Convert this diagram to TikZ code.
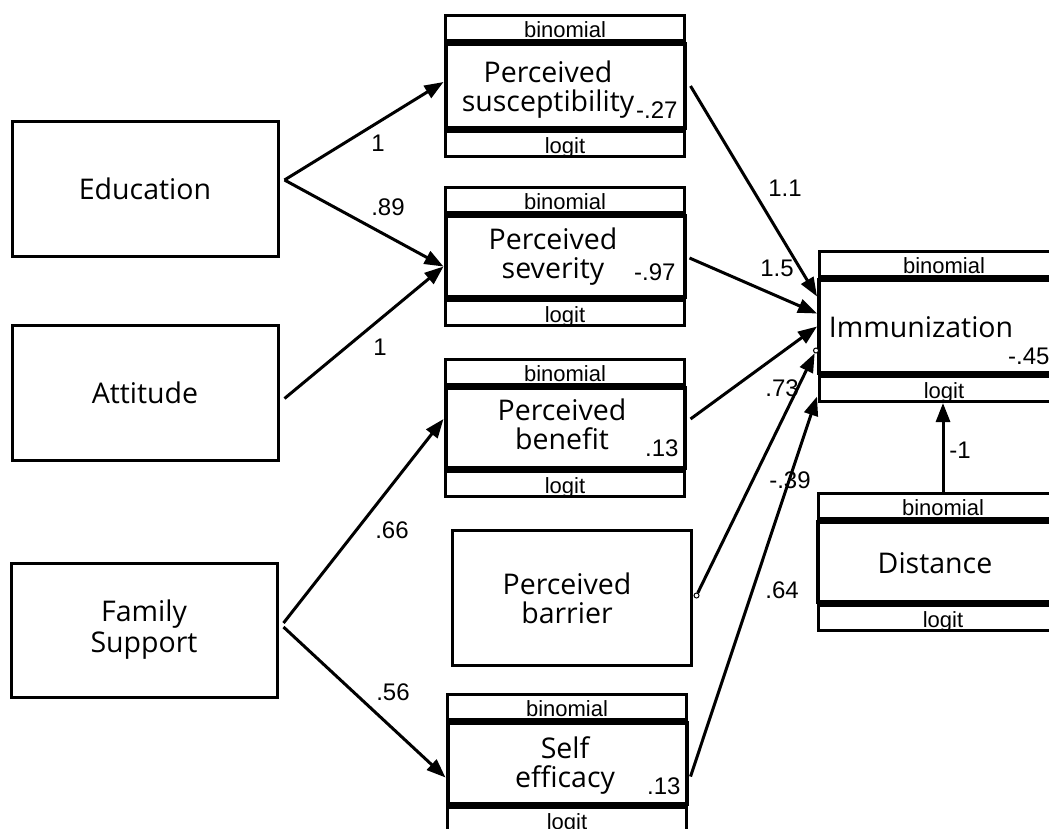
\documentclass[tikz,border=0pt]{standalone}
\usepackage{fontspec}
\setmainfont{Liberation Sans}
\newfontfamily\boxfont{Open Sans}
\usetikzlibrary{arrows.meta,positioning}

\begin{document}
\begin{tikzpicture}[x=1pt,y=-1pt,
	obs/.style={ draw, line width=3pt, inner sep=0pt, minimum width=266pt, minimum height=135pt, font=\boxfont\fontsize{28.5}{31}\selectfont, align=center },
	core/.style={ draw, line width=4pt, inner sep=0pt, minimum width=239pt },
	band/.style={ draw, line width=3pt, inner sep=0pt, minimum width=239pt, minimum height=25pt, text height=21pt, text depth=2pt, font=\fontsize{22}{24}\selectfont },
	title/.style={ font=\boxfont\fontsize{28.5}{29}\selectfont, align=center, inner sep=0pt },
	coef/.style={ font=\fontsize{24}{26}\selectfont, inner sep=0pt },
	effect/.style={ line width=3pt, -{Triangle[length=19pt,width=14pt]} },
	handle/.style={ circle, draw, line width=1pt, fill=white, inner sep=0pt, minimum size=5pt }
]
\clip (0,0) rectangle (1049,828);

% exogenous variables
\node at (145,189) (edu) [obs] {Education};
\node at (145,392.5) (att) [obs] {Attitude};
\node at (144,630) (fam) [obs,minimum height=134pt] {Family\\Support};

% perceived susceptibility
\node at (565,86) (susc) [core,minimum height=84pt] {};
\node [band,above=0pt of susc] (susc-t) {binomial};
\node [band,below=0pt of susc] (susc-b) {logit};
\node at (548,90) (susc-txt) [title] {Perceived\\susceptibility};
\node at (636,110) (susc-e) [coef,anchor=west] {-.27};

% perceived severity
\node at (565,256.5) (sev) [core,minimum height=81pt] {};
\node [band,above=0pt of sev] (sev-t) {binomial};
\node [band,below=0pt of sev] (sev-b) {logit};
\node at (553,257) (sev-txt) [title] {Perceived\\severity};
\node at (634,272) (sev-e) [coef,anchor=west] {-.97};

% perceived benefit
\node at (565,428) (ben) [core,minimum height=80pt] {};
\node [band,above=0pt of ben] (ben-t) {binomial};
\node [band,below=0pt of ben] (ben-b) {logit};
\node at (562,424) (ben-txt) [title] {Perceived\\benefit};
\node at (645,448) (ben-e) [coef,anchor=west] {.13};

% perceived barrier
\node at (571.5,597.5) (bar) [obs,minimum width=239pt] {};
\node at (567,598) (bar-txt) [title] {Perceived\\barrier};

% self efficacy
\node at (567,763.5) (self) [core,minimum height=81pt] {};
\node [band,above=0pt of self] (self-t) {binomial};
\node [band,below=0pt of self] (self-b) {logit};
\node at (565,766) (self-txt) [title] {Self\\efficacy};
\node at (647,786) (self-e) [coef,anchor=west] {.13};

% immunization
\node at (944,326.5) (imm) [core,minimum width=250pt,minimum height=93pt] {};
\node [band,minimum width=250pt,above=0pt of imm] (imm-t) {binomial};
\node [band,minimum width=250pt,below=0pt of imm] (imm-b) {logit};
\node at (921,327) (imm-txt) [title] {Immunization};
\node at (1008,356) (imm-e) [coef,anchor=west] {-.45};

% distance
\node at (943,562) (dist) [core,minimum width=250pt,minimum height=80pt] {};
\node [band,minimum width=250pt,above=0pt of dist] (dist-t) {binomial};
\node [band,minimum width=250pt,below=0pt of dist] (dist-b) {logit};
\node at (935,563) (dist-txt) [title] {Distance};

% paths to the perceptions
\draw[effect] ([xshift=5pt,yshift=9pt]edu.east) -- ([yshift=4pt]susc.west);
\draw[effect] ([xshift=5pt,yshift=9pt]edu.east) -- ([yshift=-10pt]sev.west);
\draw[effect] ([xshift=5pt,yshift=-6pt]att.east) -- ([yshift=-10pt]sev.west);
\draw[effect] ([xshift=5pt,yshift=7pt]fam.east) -- ([yshift=9pt]ben.west);
\draw[effect] ([xshift=5pt,yshift=3pt]fam.east) -- ([yshift=-14pt]self.west);

% paths to immunization
\node at ([xshift=4pt,yshift=2pt]bar.east) (bar-h) [handle] {};
\node at ([xshift=-1pt,yshift=-24pt]imm.west) (imm-h) [handle] {};
\draw[effect] ([xshift=4pt]susc.east) -- ([yshift=30pt]imm.west);
\draw[effect] ([xshift=3pt,yshift=-1.5pt]sev.east) -- ([yshift=13pt]imm.west);
\draw[effect] ([xshift=4pt,yshift=9pt]ben.east) -- (imm.west);
\draw[effect] (bar-h) -- (imm-h);
\draw[effect] ([xshift=2pt,yshift=-13pt]self.east) -- ([yshift=-70pt]imm.west);
\draw[effect] (dist-t.north) -- (dist-t.north |- imm-b.south);

% coefficients
\node at (378,143) (c1) [coef] {1};
\node at (388,207) (c2) [coef] {.89};
\node at (380,347) (c3) [coef] {1};
\node at (392,530) (c4) [coef] {.66};
\node at (393,692) (c5) [coef] {.56};
\node at (785,188) (c6) [coef] {1.1};
\node at (777,268) (c7) [coef] {1.5};
\node at (782,388) (c8) [coef] {.73};
\node at (790,480) (c9) [coef] {-.39};
\node at (782,590) (c10) [coef] {.64};
\node at (960,450) (c11) [coef] {-1};

\end{tikzpicture}
\end{document}
